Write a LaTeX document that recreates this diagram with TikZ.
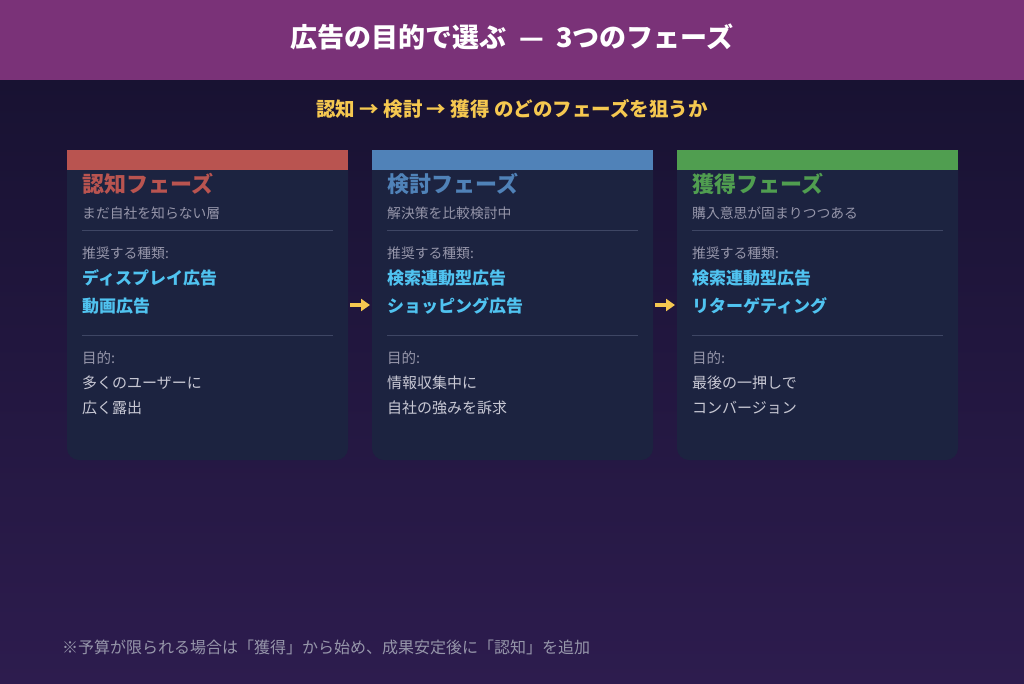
\documentclass[tikz,border=0pt]{standalone}
\usepackage{fontspec}
\setmainfont{Noto Sans CJK JP}
\usetikzlibrary{arrows.meta,positioning}

\definecolor{hdr}{RGB}{122,50,120}
\definecolor{bgtop}{RGB}{24,18,50}
\definecolor{bgbot}{RGB}{45,28,78}
\definecolor{cardbg}{RGB}{28,35,64}
\definecolor{gold}{RGB}{245,200,80}
\definecolor{ninchi}{RGB}{185,84,80}
\definecolor{kentou}{RGB}{80,130,184}
\definecolor{kakutoku}{RGB}{80,158,80}
\definecolor{adtype}{RGB}{80,195,240}
\definecolor{rule}{RGB}{62,70,100}
\definecolor{dim}{RGB}{150,150,170}
\definecolor{body}{RGB}{200,200,212}

\begin{document}
\begin{tikzpicture}[x=1pt,y=-1pt]
  \tikzstyle{txt}=[inner sep=0pt,anchor=base west]

  \useasboundingbox (0,0) rectangle (1024,683);
  \shade[top color=bgtop,bottom color=bgbot] (0,80) rectangle (1024,683);
  \fill[hdr] (0,0) rectangle (1024,80);

  \node[inner sep=0pt,anchor=base,text=white,font=\fontsize{27}{31}\selectfont\bfseries]
    (title) at (512,47) {広告の目的で選ぶ\ \ —\ \ 3つのフェーズ};
  \node[inner sep=0pt,anchor=base,text=gold,font=\fontsize{19.5}{23}\selectfont\bfseries]
    (lead) at (512,116) {認知 → 検討 → 獲得 のどのフェーズを狙うか};

  \foreach \i/\x/\col/\name/\sub/\ta/\tb/\pa/\pb in {
      1/67/ninchi/認知フェーズ/まだ自社を知らない層/ディスプレイ広告/動画広告/多くのユーザーに/広く露出,
      2/372/kentou/検討フェーズ/解決策を比較検討中/検索連動型広告/ショッピング広告/情報収集中に/自社の強みを訴求,
      3/677/kakutoku/獲得フェーズ/購入意思が固まりつつある/検索連動型広告/リターゲティング/最後の一押しで/コンバージョン} {
    \fill[cardbg,rounded corners=12pt] (\x,150) rectangle ++(281,310);
    \fill[\col] (\x,150) rectangle ++(281,20);
    \coordinate (out_\i) at (\x+283,305);
    \coordinate (in_\i) at (\x-2,305);

    \node[txt,text=\col,font=\fontsize{22}{26}\selectfont\bfseries] (name_\i) at (\x+15,192) {\name};
    \node[txt,text=dim,font=\fontsize{13.8}{16}\selectfont] (sub_\i) at (\x+15,218) {\sub};
    \draw[rule] (\x+15,230) -- (\x+266,230);
    \node[txt,text=dim,font=\fontsize{13.8}{16}\selectfont] (rec_\i) at (\x+15,258) {推奨する種類:};
    \node[txt,text=adtype,font=\fontsize{17}{20}\selectfont\bfseries] (ta_\i) at (\x+15,284) {\ta};
    \node[txt,text=adtype,font=\fontsize{17}{20}\selectfont\bfseries] (tb_\i) at (\x+15,312) {\tb};
    \draw[rule] (\x+15,335) -- (\x+266,335);
    \node[txt,text=dim,font=\fontsize{14.5}{17}\selectfont] (aim_\i) at (\x+15,363) {目的:};
    \node[txt,text=body,font=\fontsize{15}{18}\selectfont] (pa_\i) at (\x+15,388) {\pa};
    \node[txt,text=body,font=\fontsize{15}{18}\selectfont] (pb_\i) at (\x+15,413) {\pb};
  }

  \draw[gold,line width=3.5pt,-{Triangle[length=9pt,width=12pt]}] (out_1) -- (in_2);
  \draw[gold,line width=3.5pt,-{Triangle[length=9pt,width=12pt]}] (out_2) -- (in_3);

  \node[txt,text=dim,font=\fontsize{16}{19}\selectfont] (note) at (62,653)
    {※予算が限られる場合は「獲得」から始め、成果安定後に「認知」を追加};
\end{tikzpicture}
\end{document}
